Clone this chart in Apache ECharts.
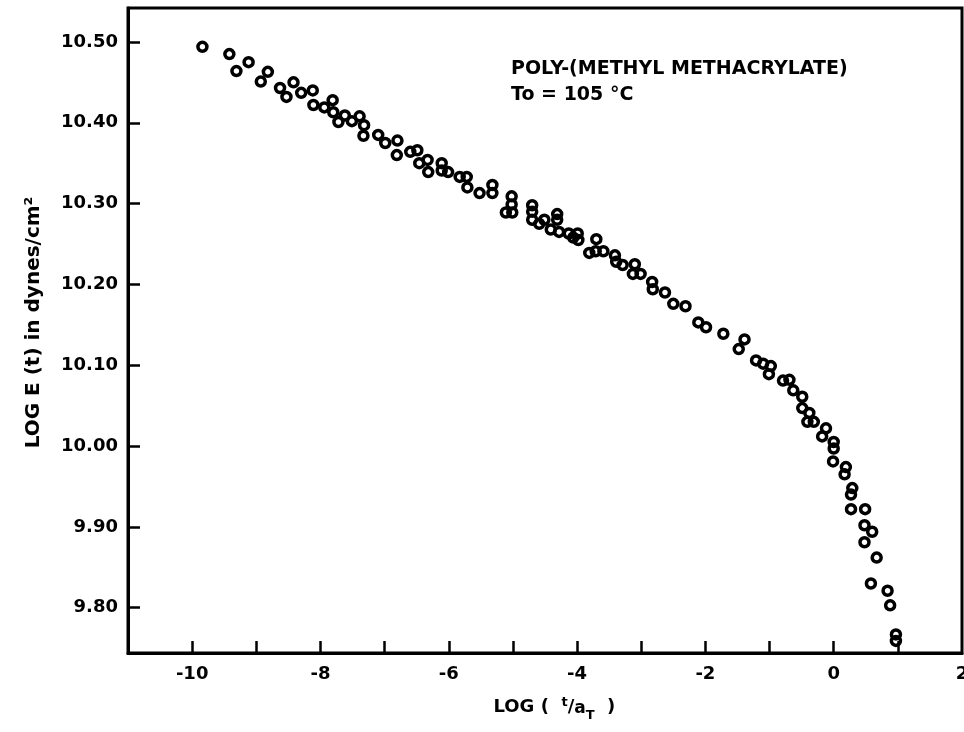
<!DOCTYPE html>
<html>
<head>
<meta charset="utf-8">
<script src="https://cdn.jsdelivr.net/npm/echarts@6/dist/echarts.min.js"></script>
<style>html,body{margin:0;padding:0;background:#fff}#c{width:964px;height:732px}</style>
</head>
<body>
<div id="c"></div>
<script>
// log(t/aT) values
const logT = [
  -9.84,-9.42,-9.31,-9.12,-8.82,-8.93,-8.63,-8.53,-8.42,-8.30,
  -8.12,-8.11,-7.94,-7.81,-7.80,-7.72,-7.62,-7.51,-7.39,-7.32,
  -7.33,-7.10,-6.99,-6.80,-6.81,-6.60,-6.49,-6.46,-6.33,-6.32,
  -6.11,-6.11,-6.01,-5.83,-5.72,-5.71,-5.52,-5.32,-5.32,-5.02,
  -5.02,-5.11,-5.01,-4.70,-4.70,-4.70,-4.59,-4.51,-4.41,-4.31,
  -4.31,-4.28,-4.13,-4.06,-3.99,-3.98,-3.70,-3.81,-3.71,-3.59,
  -3.41,-3.39,-3.29,-3.10,-3.13,-3.01,
  -2.83,-2.82,-2.63,-2.50,-2.31,-2.11,-1.99,-1.72,-1.39,-1.48,
  -1.21,-1.10,-0.98,-1.01,-0.79,-0.69,-0.63,-0.49,-0.49,-0.38,
  -0.41,-0.31,-0.12,-0.18,0.00,0.00,-0.01,0.19,0.17,0.29,
  0.27,0.27,0.49,0.48,0.60,0.48,0.67,0.58,0.84,0.88,
  0.97,0.97
];
// log E(t) values
const logE = [
  10.494,10.485,10.464,10.475,10.463,10.451,10.443,10.432,10.450,10.437,
  10.440,10.422,10.419,10.428,10.413,10.401,10.409,10.402,10.408,10.397,
  10.384,10.385,10.375,10.378,10.360,10.364,10.366,10.350,10.354,10.339,
  10.350,10.341,10.339,10.333,10.333,10.320,10.313,10.323,10.313,10.309,
  10.299,10.289,10.289,10.298,10.290,10.280,10.275,10.280,10.268,10.287,
  10.280,10.265,10.263,10.258,10.263,10.255,10.256,10.239,10.241,10.241,
  10.236,10.228,10.224,10.225,10.213,10.213,
  10.203,10.194,10.190,10.176,10.173,10.153,10.147,10.139,10.132,10.120,
  10.106,10.102,10.099,10.089,10.081,10.082,10.069,10.061,10.047,10.041,
  10.030,10.030,10.022,10.012,10.005,9.997,9.981,9.974,9.965,9.948,
  9.940,9.922,9.922,9.902,9.894,9.881,9.862,9.830,9.821,9.803,
  9.767,9.759
];
const xTickValues = [-10,-9,-8,-7,-6,-5,-4,-3,-2,-1,0,1];
const xLabelValues = [-10,-8,-6,-4,-2,0,2];
const yTickValues = [9.8,9.9,10.0,10.1,10.2,10.3,10.4,10.5];
const titleLines = ['POLY-(METHYL METHACRYLATE)', 'To = 105 °C'];

const points = logT.map((x, i) => [x, logE[i]]);
const FONT = 'DejaVu Sans';

const chart = echarts.init(document.getElementById('c'), null, {renderer: 'canvas'});
chart.setOption({
  animation: false,
  backgroundColor: '#fff',
  title: {
    text: titleLines.join('\n'),
    left: 511, top: 56, padding: 0,
    textStyle: {fontFamily: FONT, fontWeight: 'bold', fontSize: 19, color: '#000', lineHeight: 26}
  },
  grid: {
    left: 128, right: 2, top: 8, bottom: 79,
    outerBoundsMode: 'none', containLabel: false,
    show: true, borderColor: '#000', borderWidth: 3, backgroundColor: 'transparent'
  },
  xAxis: {
    type: 'value', min: -11, max: 2, interval: 1,
    splitLine: {show: false},
    axisLine: {onZero: false, lineStyle: {color: '#000', width: 3}},
    axisTick: {inside: true, length: 12, customValues: xTickValues, lineStyle: {color: '#000', width: 2.5}},
    axisLabel: {customValues: xLabelValues, margin: 12, color: '#000', fontFamily: FONT, fontWeight: 'bold', fontSize: 18},
    name: '   LOG (  {sup|t}/{a|a}{sub|T}  )',
    nameLocation: 'middle', nameGap: 39,
    nameTextStyle: {
      fontFamily: FONT, fontWeight: 'bold', fontSize: 18, color: '#000', lineHeight: 30,
      rich: {
        sup: {fontFamily: FONT, fontWeight: 'bold', fontSize: 13, color: '#000', lineHeight: 30, verticalAlign: 'top', padding: [4,0,0,0]},
        a: {fontFamily: FONT, fontWeight: 'bold', fontSize: 17, color: '#000', lineHeight: 30, verticalAlign: 'middle', padding: [4,0,0,0]},
        sub: {fontFamily: FONT, fontWeight: 'bold', fontSize: 13, color: '#000', lineHeight: 30, verticalAlign: 'bottom'}
      }
    }
  },
  yAxis: {
    type: 'value', min: 9.744, max: 10.542,
    splitLine: {show: false},
    axisLine: {onZero: false, lineStyle: {color: '#000', width: 3}},
    axisTick: {inside: true, length: 12, customValues: yTickValues, lineStyle: {color: '#000', width: 2.5}},
    axisLabel: {customValues: yTickValues, margin: 10, color: '#000', fontFamily: FONT, fontWeight: 'bold', fontSize: 18,
      formatter: v => v.toFixed(2)},
    name: 'LOG E (t) in dynes/cm²',
    nameLocation: 'middle', nameGap: 84,
    nameTextStyle: {fontFamily: FONT, fontWeight: 'bold', fontSize: 20, color: '#000', padding: [0, 0, 0, 16]}
  },
  series: [{
    type: 'scatter',
    data: points,
    symbol: 'circle',
    symbolSize: 9,
    itemStyle: {color: 'rgba(255,255,255,0)', borderColor: '#000', borderWidth: 3.5, opacity: 1}
  }]
});
</script>
</body>
</html>
